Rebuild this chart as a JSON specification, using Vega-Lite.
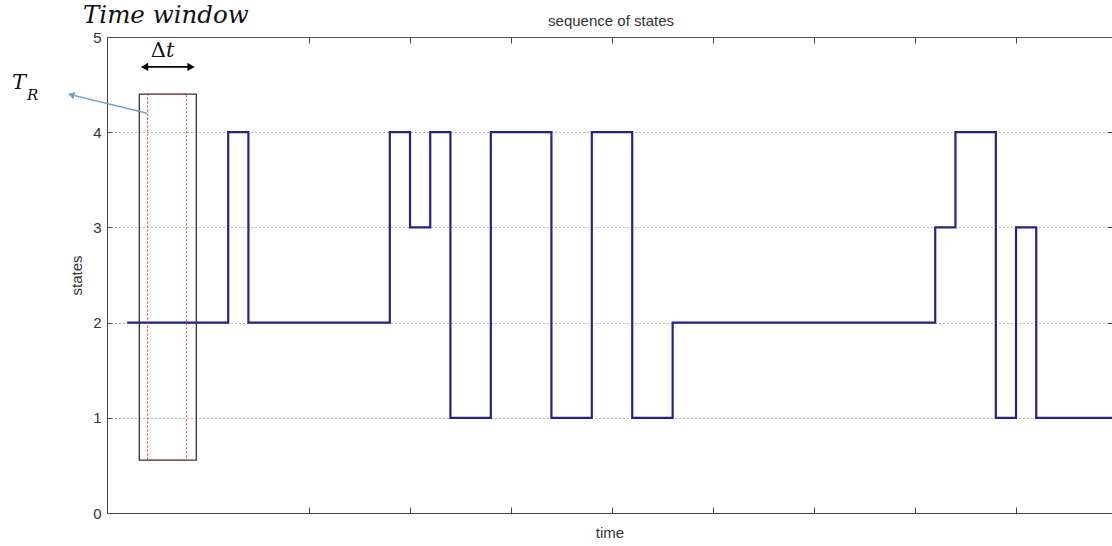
{
  "$schema": "https://vega.github.io/schema/vega-lite/v6.json",
  "width": 1005,
  "height": 476,
  "autosize": {"type": "none"},
  "padding": {"left": 107, "top": 37, "right": 0, "bottom": 33},
  "background": "white",
  "config": {
    "view": {"stroke": "#444", "strokeWidth": 1},
    "font": "Liberation Sans"
  },
  "resolve": {"axis": {"x": "independent", "y": "independent"}},
  "layer": [
    {
      "data": {"values": [
        {"t": 1, "s": 2}, {"t": 6, "s": 4}, {"t": 7, "s": 2}, {"t": 14, "s": 4},
        {"t": 15, "s": 3}, {"t": 16, "s": 4}, {"t": 17, "s": 1}, {"t": 19, "s": 4},
        {"t": 22, "s": 1}, {"t": 24, "s": 4}, {"t": 26, "s": 1}, {"t": 28, "s": 2},
        {"t": 41, "s": 3}, {"t": 42, "s": 4}, {"t": 44, "s": 1}, {"t": 45, "s": 3},
        {"t": 46, "s": 1}, {"t": 50, "s": 1}
      ]},
      "mark": {"type": "line", "interpolate": "step-after", "color": "#22228c", "strokeWidth": 2.2, "clip": true},
      "encoding": {
        "x": {"field": "t", "type": "quantitative",
              "scale": {"domain": [0, 49.75], "nice": false, "zero": false},
              "axis": {"orient": "bottom", "values": [10, 15, 20, 25, 30, 35, 40, 45], "labels": false,
                       "tickSize": -6, "tickColor": "#444", "domainColor": "#444", "grid": false,
                       "title": "time", "titleFontSize": 15, "titleFontWeight": "normal", "titleColor": "#333",
                       "titlePadding": 12, "titleFont": "Liberation Sans"}},
        "y": {"field": "s", "type": "quantitative",
              "scale": {"domain": [0, 5], "nice": false, "zero": false},
              "axis": {"orient": "left", "values": [0, 1, 2, 3, 4, 5], "format": "d", "tickSize": -5, "tickColor": "#444",
                       "labelPadding": 11, "labelFontSize": 15, "labelColor": "#333", "labelFont": "Liberation Sans",
                       "domainColor": "#444", "grid": true, "gridDash": [1, 3], "gridColor": "#777", "gridWidth": 1,
                       "title": "states", "titleFontSize": 15, "titleFontWeight": "normal", "titleColor": "#333",
                       "titlePadding": 8, "titleFont": "Liberation Sans"}}
      }
    },
    {
      "data": {"values": [{"x1": 1.6, "x2": 4.42, "y1": 0.556, "y2": 4.4}]},
      "mark": {"type": "rect", "fill": null, "fillOpacity": 0, "stroke": "#333", "strokeWidth": 1.3, "clip": false},
      "encoding": {
        "x": {"field": "x1", "type": "quantitative",
              "axis": {"orient": "top", "values": [10, 15, 20, 25, 30, 35, 40, 45], "labels": false, "tickSize": -6,
                       "tickColor": "#444", "domain": false, "title": null, "grid": false}},
        "x2": {"field": "x2"},
        "y": {"field": "y1", "type": "quantitative",
              "axis": {"orient": "right", "values": [1, 2, 3, 4], "labels": false, "tickSize": -5,
                       "tickColor": "#444", "domain": false, "title": null, "grid": false}},
        "y2": {"field": "y2"}
      }
    },
    {
      "data": {"values": [{"x1": 2.01, "x2": 3.93, "y1": 0.556, "y2": 4.4}]},
      "mark": {"type": "rect", "fill": null, "fillOpacity": 0, "stroke": "#e03030", "strokeWidth": 1, "strokeDash": [2, 2], "clip": false},
      "encoding": {
        "x": {"field": "x1", "type": "quantitative", "axis": null},
        "x2": {"field": "x2"},
        "y": {"field": "y1", "type": "quantitative", "axis": null},
        "y2": {"field": "y2"}
      }
    },
    {
      "data": {"values": [{"x1": 1.75, "x2": 4.27, "y": 4.686}]},
      "mark": {"type": "rule", "color": "#000", "strokeWidth": 1.8, "clip": false},
      "encoding": {
        "x": {"field": "x1", "type": "quantitative", "axis": null},
        "x2": {"field": "x2"},
        "y": {"field": "y", "type": "quantitative", "axis": null}
      }
    },
    {
      "data": {"values": [{"x": 1.86, "y": 4.686}]},
      "mark": {"type": "point", "shape": "triangle-left", "filled": true, "color": "#000", "size": 70, "opacity": 1, "clip": false},
      "encoding": {
        "x": {"field": "x", "type": "quantitative", "axis": null},
        "y": {"field": "y", "type": "quantitative", "axis": null}
      }
    },
    {
      "data": {"values": [{"x": 4.16, "y": 4.686}]},
      "mark": {"type": "point", "shape": "triangle-right", "filled": true, "color": "#000", "size": 70, "opacity": 1, "clip": false},
      "encoding": {
        "x": {"field": "x", "type": "quantitative", "axis": null},
        "y": {"field": "y", "type": "quantitative", "axis": null}
      }
    },
    {
      "data": {"values": [{"x1": 1.98, "y1": 4.2, "x2": -1.9, "y2": 4.4}]},
      "mark": {"type": "rule", "color": "#6a9fcf", "strokeWidth": 1.5, "clip": false},
      "encoding": {
        "x": {"field": "x1", "type": "quantitative", "axis": null},
        "y": {"field": "y1", "type": "quantitative", "axis": null},
        "x2": {"field": "x2"},
        "y2": {"field": "y2"}
      }
    },
    {
      "data": {"values": [{"x": -1.72, "y": 4.39}]},
      "mark": {"type": "point", "shape": "triangle", "angle": 284, "filled": true, "color": "#6a9fcf", "size": 55, "opacity": 1, "clip": false},
      "encoding": {
        "x": {"field": "x", "type": "quantitative", "axis": null},
        "y": {"field": "y", "type": "quantitative", "axis": null}
      }
    },
    {
      "data": {"values": [{"x": 24.95, "y": 5.113, "label": "sequence of states"}]},
      "mark": {"type": "text", "font": "Liberation Sans", "fontSize": 15, "align": "center", "baseline": "alphabetic", "color": "#333", "clip": false},
      "encoding": {
        "x": {"field": "x", "type": "quantitative", "axis": null},
        "y": {"field": "y", "type": "quantitative", "axis": null},
        "text": {"field": "label"}
      }
    },
    {
      "data": {"values": [{"x": -1.19, "y": 5.144, "label": "Time window"}]},
      "mark": {"type": "text", "font": "DejaVu Serif", "fontStyle": "italic", "fontSize": 24.5, "align": "left", "baseline": "alphabetic", "color": "#111", "clip": false},
      "encoding": {
        "x": {"field": "x", "type": "quantitative", "axis": null},
        "y": {"field": "y", "type": "quantitative", "axis": null},
        "text": {"field": "label"}
      }
    },
    {
      "data": {"values": [{"x": 2.92, "y": 4.787, "label": "Δ"}]},
      "mark": {"type": "text", "font": "DejaVu Serif", "fontSize": 21, "align": "right", "baseline": "alphabetic", "color": "#111", "clip": false},
      "encoding": {
        "x": {"field": "x", "type": "quantitative", "axis": null},
        "y": {"field": "y", "type": "quantitative", "axis": null},
        "text": {"field": "label"}
      }
    },
    {
      "data": {"values": [{"x": 2.92, "y": 4.787, "label": "t"}]},
      "mark": {"type": "text", "font": "DejaVu Serif", "fontStyle": "italic", "fontSize": 21, "align": "left", "baseline": "alphabetic", "color": "#111", "clip": false},
      "encoding": {
        "x": {"field": "x", "type": "quantitative", "axis": null},
        "y": {"field": "y", "type": "quantitative", "axis": null},
        "text": {"field": "label"}
      }
    },
    {
      "data": {"values": [{"x": -4.7, "y": 4.45, "label": "T"}]},
      "mark": {"type": "text", "font": "DejaVu Serif", "fontStyle": "italic", "fontSize": 21, "align": "left", "baseline": "alphabetic", "color": "#111", "clip": false},
      "encoding": {
        "x": {"field": "x", "type": "quantitative", "axis": null},
        "y": {"field": "y", "type": "quantitative", "axis": null},
        "text": {"field": "label"}
      }
    },
    {
      "data": {"values": [{"x": -3.96, "y": 4.336, "label": "R"}]},
      "mark": {"type": "text", "font": "DejaVu Serif", "fontStyle": "italic", "fontSize": 15, "align": "left", "baseline": "alphabetic", "color": "#111", "clip": false},
      "encoding": {
        "x": {"field": "x", "type": "quantitative", "axis": null},
        "y": {"field": "y", "type": "quantitative", "axis": null},
        "text": {"field": "label"}
      }
    }
  ]
}
